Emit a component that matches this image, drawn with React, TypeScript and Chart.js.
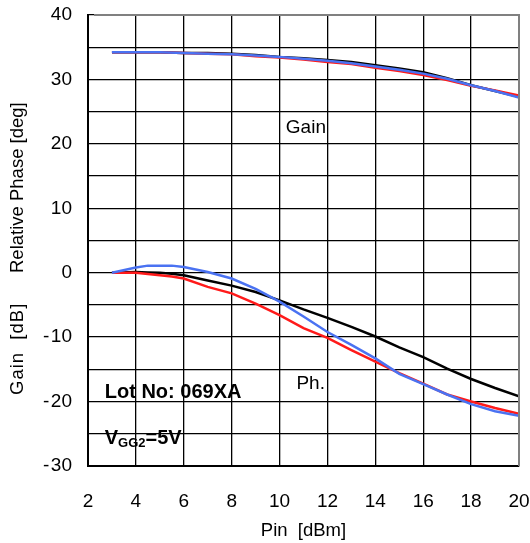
import React, { useEffect, useRef } from "react";
import { Chart, registerables } from "chart.js";
Chart.register(...registerables);

// Pin [dBm] sample points
const gainPin = [3, 4, 5, 6, 7, 8, 9, 10, 11, 12, 13, 14, 15, 16, 17, 18, 19, 20];
const gainBlack = [34.2, 34.2, 34.2, 34.1, 34.1, 34.0, 33.8, 33.5, 33.3, 33.0, 32.7, 32.2, 31.7, 31.1, 30.2, 29.1, 28.2, 27.3];
const gainRed = [34.2, 34.2, 34.2, 34.1, 34.0, 33.9, 33.6, 33.4, 33.1, 32.7, 32.4, 31.8, 31.3, 30.7, 29.9, 29.0, 28.3, 27.5];
const gainBlue = [34.2, 34.2, 34.2, 34.1, 34.0, 33.9, 33.7, 33.5, 33.2, 32.9, 32.5, 32.0, 31.5, 30.9, 30.1, 29.1, 28.2, 27.2];

const phasePin = [3, 4, 4.5, 5, 5.5, 6, 7, 8, 9, 10, 11, 12, 13, 14, 15, 16, 17, 18, 19, 20];
const phaseBlack = [0, 0.1, 0.05, 0, -0.15, -0.4, -1.2, -2.0, -3.0, -4.3, -5.7, -7.0, -8.4, -9.9, -11.6, -13.1, -14.9, -16.5, -17.9, -19.2];
const phaseRed = [0, 0, -0.2, -0.4, -0.6, -0.9, -2.2, -3.2, -4.8, -6.6, -8.6, -10.1, -12.0, -13.8, -15.6, -17.2, -18.9, -20.0, -21.0, -21.9];
const phaseBlue = [0, 0.8, 1.1, 1.1, 1.1, 0.9, 0.1, -0.9, -2.5, -4.5, -6.8, -9.2, -11.2, -13.3, -15.7, -17.3, -18.9, -20.4, -21.5, -22.2];

const xTitle = "Pin  [dBm]";
const yTitleLower = "Gain  [dB]";
const yTitleUpper = "Relative Phase [deg]";

const FONT = "'Liberation Sans', Arial, sans-serif";
const BLACK = "#000000";
const RED = "#ff1a1a";
const BLUE = "#4a72f2";

export default function App() {
  const ref = useRef<HTMLCanvasElement>(null);
  useEffect(() => {
    document.body.style.margin = "0";
    const canvas = ref.current!;
    const pts = (xs: number[], ys: number[]) => xs.map((x, i) => ({ x, y: ys[i] }));
    const ds = (data: any, color: string) => ({
      data,
      borderColor: color,
      backgroundColor: color,
      borderWidth: 2.5,
      pointRadius: 0,
      showLine: true,
      tension: 0,
    });
    const noPad = (s: any) => {
      s.paddingLeft = 0;
      s.paddingRight = 0;
      s.paddingTop = 0;
      s.paddingBottom = 0;
    };

    const annot = {
      id: "annot",
      afterDraw(chart: any) {
        const { ctx, chartArea, scales } = chart;
        const xs = scales.x;
        const ys = scales.y;
        ctx.save();
        // gray top & right frame
        ctx.strokeStyle = "#808080";
        ctx.lineWidth = 2;
        ctx.beginPath();
        ctx.moveTo(chartArea.left + 6, chartArea.top);
        ctx.lineTo(chartArea.right, chartArea.top);
        ctx.lineTo(chartArea.right, chartArea.bottom);
        ctx.stroke();

        // y-axis title (two parts)
        ctx.save();
        ctx.translate(18, 0);
        ctx.rotate(-Math.PI / 2);
        ctx.fillStyle = "#000";
        ctx.textBaseline = "middle";
        ctx.textAlign = "left";
        ctx.font = `18.5px ${FONT}`;
        (ctx as any).letterSpacing = "1px";
        ctx.fillText(yTitleLower, -395, 0);
        (ctx as any).letterSpacing = "0px";
        ctx.fillText(yTitleUpper, -273, 0);
        ctx.restore();

        ctx.fillStyle = "#000";
        ctx.textBaseline = "middle";
        ctx.textAlign = "center";
        ctx.font = `19px ${FONT}`;
        ctx.fillText("Gain", xs.getPixelForValue(11.1), ys.getPixelForValue(22.5));
        ctx.fillText("Ph.", xs.getPixelForValue(11.3), ys.getPixelForValue(-17.2));

        ctx.textAlign = "left";
        ctx.font = `bold 20px ${FONT}`;
        const lx = xs.getPixelForValue(2.7);
        ctx.fillText("Lot No: 069XA", lx, ys.getPixelForValue(-18.6));

        const vy = ys.getPixelForValue(-25.6);
        ctx.textBaseline = "alphabetic";
        const base = vy + 6;
        ctx.fillText("V", lx, base);
        let cx = lx + ctx.measureText("V").width;
        ctx.font = `bold 13px ${FONT}`;
        ctx.fillText("GG2", cx, base + 3);
        cx += ctx.measureText("GG2").width;
        ctx.font = `bold 20px ${FONT}`;
        ctx.fillText("=5V", cx, base);
        ctx.restore();
      },
    };

    const chart = new Chart(canvas, {
      type: "scatter",
      data: {
        datasets: [
          ds(pts(gainPin, gainBlue), BLUE),
          ds(pts(gainPin, gainRed), RED),
          ds(pts(gainPin, gainBlack), BLACK),
          ds(pts(phasePin, phaseBlue), BLUE),
          ds(pts(phasePin, phaseRed), RED),
          ds(pts(phasePin, phaseBlack), BLACK),
        ],
      },
      options: {
        animation: false,
        responsive: false,
        layout: { padding: { top: 15, right: 11, left: 0, bottom: 0 } },
        plugins: { legend: { display: false }, tooltip: { enabled: false } },
        scales: {
          x: {
            type: "linear",
            min: 2,
            max: 20,
            afterFit: (s: any) => { s.height = 77; noPad(s); },
            ticks: { stepSize: 2, color: "#000", font: { family: FONT, size: 19 }, padding: 24, maxRotation: 0 },
            grid: { color: "#000", lineWidth: 1.3, drawTicks: false },
            border: { color: "#000", width: 2 },
            title: { display: true, text: xTitle, color: "#000", font: { family: FONT, size: 18.5 }, padding: { top: 0, bottom: 1 } },
          },
          y: {
            type: "linear",
            min: -30,
            max: 40,
            afterFit: (s: any) => { s.width = 88; noPad(s); },
            ticks: {
              stepSize: 5,
              color: "#000",
              font: { family: FONT, size: 19 },
              padding: 16,
              callback: (v: any) => {
                const n = Number(v);
                if (n % 10 !== 0) return "";
                return n < 0 ? "-\u200A" + String(-n) : String(n);
              },
            },
            grid: { color: "#000", lineWidth: 1.3, drawTicks: false },
            border: { color: "#000", width: 2 },
          },
        },
      },
      plugins: [annot],
    });
    return () => chart.destroy();
  }, []);
  return (
    <div style={{ width: 530, height: 543 }}>
      <canvas ref={ref} width={530} height={543} style={{ display: "block" }} />
    </div>
  );
}
